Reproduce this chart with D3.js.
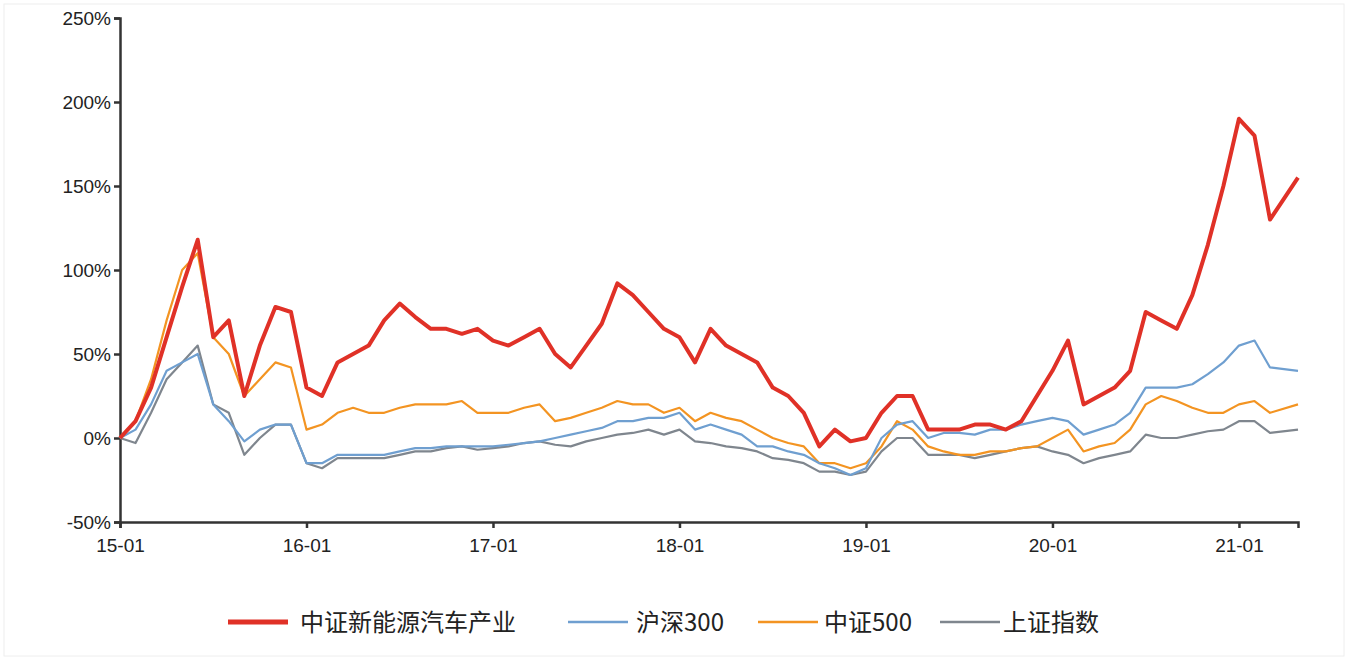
<!DOCTYPE html><html><head><meta charset="utf-8"><script src="https://cdn.jsdelivr.net/npm/d3@7"></script>
<style>body{margin:0;background:#fff;font-family:"Open Sans","Noto Sans CJK SC",sans-serif}</style></head><body><svg id="c" width="1348" height="660"></svg>
<script>
const tickLabels=["15-01","16-01","17-01","18-01","19-01","20-01","21-01"];
const yTicks=[-50,0,50,100,150,200,250];
const seriesNames=["中证新能源汽车产业","沪深300","中证500","上证指数"];
const colors=["#e03127","#6f9fd0","#f39422","#7f868e"];
const nev=[0,10,30,60,90,118,60,70,25,55,78,75, 30,25,45,50,55,70,80,72,65,65,62,65, 58,55,60,65,50,42,55,68,92,85,75,65, 60,45,65,55,50,45,30,25,15,-5,5,-2, 0,15,25,25,5,5,5,8,8,5,10,25, 40,58,20,25,30,40,75,70,65,85,115,150, 190,180,130,155];
const hs300=[0,5,20,40,45,50,20,10,-2,5,8,8, -15,-15,-10,-10,-10,-10,-8,-6,-6,-5,-5,-5, -5,-4,-3,-2,0,2,4,6,10,10,12,12, 15,5,8,5,2,-5,-5,-8,-10,-15,-18,-22, -18,0,8,10,0,3,3,2,5,5,8,10, 12,10,2,5,8,15,30,30,30,32,38,45, 55,58,42,40];
const zz500=[0,10,35,70,100,110,60,50,25,35,45,42, 5,8,15,18,15,15,18,20,20,20,22,15, 15,15,18,20,10,12,15,18,22,20,20,15, 18,10,15,12,10,5,0,-3,-5,-15,-15,-18, -15,-5,10,5,-5,-8,-10,-10,-8,-8,-6,-5, 0,5,-8,-5,-3,5,20,25,22,18,15,15, 20,22,15,20];
const sh=[0,-3,15,35,45,55,20,15,-10,0,8,8, -15,-18,-12,-12,-12,-12,-10,-8,-8,-6,-5,-7, -6,-5,-3,-2,-4,-5,-2,0,2,3,5,2, 5,-2,-3,-5,-6,-8,-12,-13,-15,-20,-20,-22, -20,-8,0,0,-10,-10,-10,-12,-10,-8,-6,-5, -8,-10,-15,-12,-10,-8,2,0,0,2,4,5, 10,10,3,5];
const svg=d3.select("#c");
svg.append("rect").attr("x",4).attr("y",4).attr("width",1340).attr("height",652).attr("fill","none").attr("stroke","#eee");
const x=d3.scaleLinear().domain([0,75.8]).range([120,1298]);
const y=d3.scaleLinear().domain([-50,250]).range([522,18]);
const xp=(i,n)=>i===n-1?75.8:i;
const ax=svg.append("g").attr("transform","translate(0,522)").call(d3.axisBottom(x).tickValues([0,12,24,36,48,60,72]).tickFormat((d,i)=>tickLabels[i]).tickSize(6));
const ay=svg.append("g").attr("transform","translate(120,0)").call(d3.axisLeft(y).tickValues(yTicks).tickFormat(d=>d+"%").tickSize(6));
[ax,ay].forEach(a=>{a.selectAll("path,line").attr("stroke","#333").attr("stroke-width",2.5);a.selectAll("text").attr("font-size",19).attr("fill","#222").attr("font-family","Arial, Liberation Sans, sans-serif");});
ax.selectAll("text").attr("dy","1.1em");
const line=d3.line().x((d,i,a)=>x(xp(i,a.length))).y(d=>y(d));
const data=[nev,hs300,zz500,sh];
[3,2,1,0].forEach(k=>svg.append("path").datum(data[k]).attr("d",line).attr("fill","none").attr("stroke",colors[k]).attr("stroke-width",k===0?4:2.2).attr("stroke-linejoin","round"));
const lg=[[228,300],[568,636],[758,824],[940,1003]];
lg.forEach((p,k)=>{svg.append("line").attr("x1",p[0]).attr("x2",p[0]+60).attr("y1",622).attr("y2",622).attr("stroke",colors[k]).attr("stroke-width",k===0?5:2.5);
svg.append("text").attr("x",p[1]).attr("y",631).attr("font-size",24).attr("fill","#222").attr("font-family","Noto Sans CJK SC").text(seriesNames[k]);});
</script></body></html>
